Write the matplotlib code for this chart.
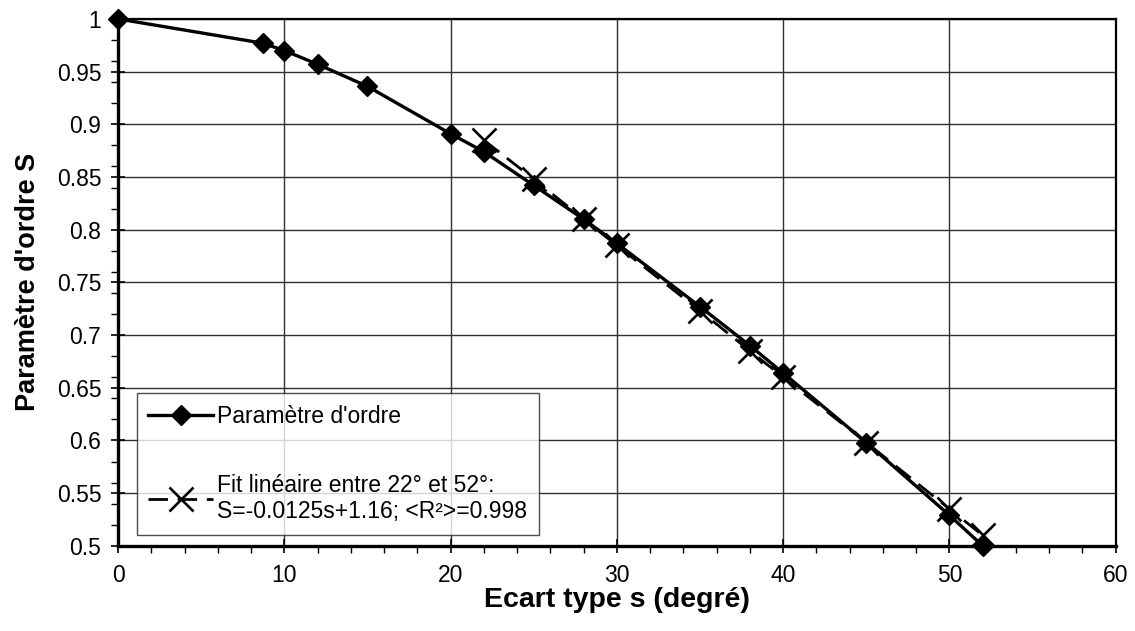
import numpy as np
import matplotlib.pyplot as plt
from matplotlib.ticker import MultipleLocator

plt.rcParams['font.family'] = ['Liberation Sans', 'DejaVu Sans']

# Paramètre d'ordre mesuré
ecart = [0, 8.7, 10, 12, 15, 20, 22, 25, 28, 30, 35, 38, 40, 45, 50, 52]
ordre = [1.0, 0.977, 0.970, 0.957, 0.936, 0.891, 0.874, 0.842, 0.810, 0.787,
         0.727, 0.690, 0.664, 0.598, 0.529, 0.500]

# Fit linéaire entre 22° et 52°
ecart_fit = [22, 25, 28, 30, 35, 38, 40, 45, 50, 52]
ordre_fit = [0.885, 0.848, 0.810, 0.785, 0.723, 0.685, 0.660, 0.598, 0.535, 0.510]

yticks = [0.5, 0.55, 0.6, 0.65, 0.7, 0.75, 0.8, 0.85, 0.9, 0.95, 1.0]
ytick_labels = ["0.5", "0.55", "0.6", "0.65", "0.7", "0.75", "0.8",
                "0.85", "0.9", "0.95", "1"]

label_data = "Paramètre d'ordre"
label_fit = "Fit linéaire entre 22° et 52°:\nS=-0.0125s+1.16; <R²>=0.998"

fig = plt.figure(figsize=(11.35, 6.31), dpi=100)
ax = fig.add_axes([0.104, 0.135, 0.879, 0.835])

ax.plot(ecart, ordre, color="black", lw=2.4, marker="D", ms=10,
        label=label_data, clip_on=False, zorder=4)
ax.plot(ecart_fit, ordre_fit, color="black", lw=2.0, ls=(0, (7, 3.5)),
        marker="x", ms=17, mew=1.9, label=label_fit, clip_on=False, zorder=3)

ax.set_xlim(0, 60)
ax.set_ylim(0.5, 1.0)
ax.xaxis.set_major_locator(MultipleLocator(10))
ax.xaxis.set_minor_locator(MultipleLocator(2))
ax.yaxis.set_minor_locator(MultipleLocator(0.02))
ax.set_yticks(yticks)
ax.set_yticklabels(ytick_labels)

ax.tick_params(which="major", direction="inout", length=10, width=1.2,
               labelsize=16.5)
ax.tick_params(axis="y", which="major", pad=7)
ax.tick_params(axis="x", which="major", pad=8)
ax.tick_params(which="minor", direction="out", length=5, width=1.0)
ax.grid(True, which="major", color="#303030", lw=1.0)
ax.set_axisbelow(True)

for side in ["left", "bottom"]:
    ax.spines[side].set_linewidth(2.4)
for side in ["top", "right"]:
    ax.spines[side].set_linewidth(1.6)

ax.set_xlabel("Ecart type s (degré)", fontsize=20.5, fontweight="bold", labelpad=0)
ax.set_ylabel("Paramètre d'ordre S", fontsize=19.5, fontweight="bold", labelpad=11)

leg = ax.legend(loc="lower left", bbox_to_anchor=(0.019, 0.021), fontsize=16.5,
                frameon=True, fancybox=False, edgecolor="#202020",
                handlelength=2.8, labelspacing=2.0, borderpad=0.5,
                handletextpad=0.2, borderaxespad=0)
leg.get_frame().set_linewidth(1.0)

fig.savefig("out.png", dpi=100)
